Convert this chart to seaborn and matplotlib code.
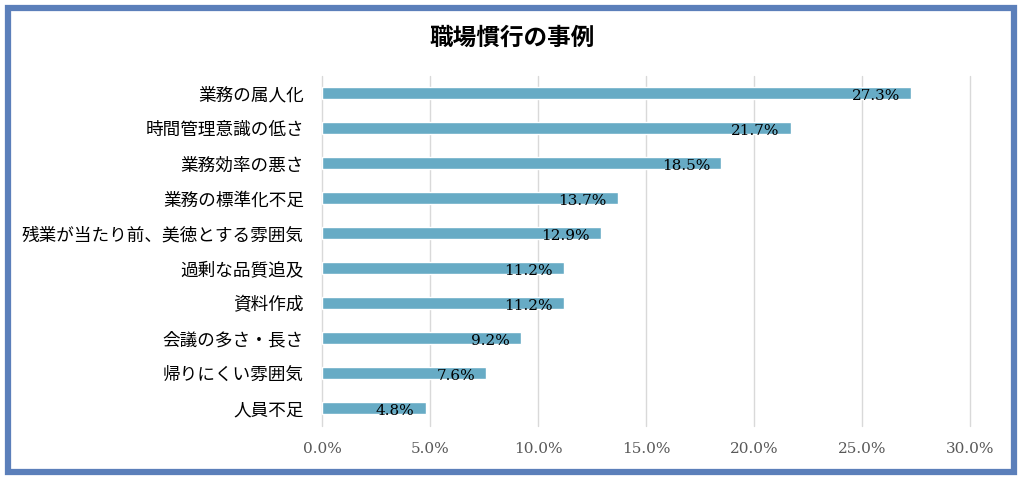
import pandas as pd
import matplotlib
matplotlib.use("Agg")
import matplotlib.pyplot as plt
import seaborn as sns
from matplotlib.patches import Rectangle
from matplotlib.ticker import FuncFormatter

title = "職場慣行の事例"
categories = [
    "業務の属人化",
    "時間管理意識の低さ",
    "業務効率の悪さ",
    "業務の標準化不足",
    "残業が当たり前、美徳とする雰囲気",
    "過剰な品質追及",
    "資料作成",
    "会議の多さ・長さ",
    "帰りにくい雰囲気",
    "人員不足",
]
values = [27.3, 21.7, 18.5, 13.7, 12.9, 11.2, 11.2, 9.2, 7.6, 4.8]
x_ticks = [0, 5, 10, 15, 20, 25, 30]

bar_color = "#67abc5"
frame_color = "#5b7fba"

sns.set_theme(style="white")
plt.rcParams['font.family'] = ['Noto Sans CJK JP', 'DejaVu Sans']

df = pd.DataFrame({"item": categories, "pct": values})

fig = plt.figure(figsize=(10.24, 4.8), dpi=100)
ax = fig.add_axes([0.3145, 0.113, 0.6325, 0.729])

sns.barplot(data=df, x="pct", y="item", orient="h", color=bar_color,
            width=0.34, saturation=1, ax=ax, zorder=2)

ax.set_xlim(0, 30)
ax.set_ylim(len(categories) - 0.5, -0.5)
ax.set_xticks(x_ticks)
ax.xaxis.set_major_formatter(FuncFormatter(lambda v, p: f"{v:.1f}%"))
ax.grid(axis="x", color="#d9d9d9", linewidth=1, zorder=0)
for gl in ax.get_xgridlines():
    gl.set_clip_on(False)
for s in ax.spines.values():
    s.set_visible(False)
ax.tick_params(axis="both", length=0)
ax.tick_params(axis="x", pad=12)
ax.tick_params(axis="y", pad=13)
ax.set_xlabel("")
ax.set_ylabel("")

for lab in ax.get_xticklabels():
    lab.set_family(['DejaVu Serif'])
    lab.set_fontsize(11)
    lab.set_color("#595959")
for lab in ax.get_yticklabels():
    lab.set_fontsize(12.7)
    lab.set_color("#000000")

# data labels just inside bar end
for i, v in enumerate(values):
    ax.annotate(f"{v}%", xy=(v, i), xytext=(-8, -2), textcoords="offset points",
                ha="right", va="center", fontsize=11,
                family=['DejaVu Serif'], color="black", zorder=3)

fig.text(0.5, 0.921, title, ha="center", va="center", fontsize=17,
         fontweight="bold", color="black")

# outer frame
fig.patches.append(Rectangle((8 / 1024, 8 / 480), 1006 / 1024, 464 / 480,
                             transform=fig.transFigure, fill=False,
                             edgecolor=frame_color, linewidth=4.5))

fig.savefig("out.png", dpi=100)
